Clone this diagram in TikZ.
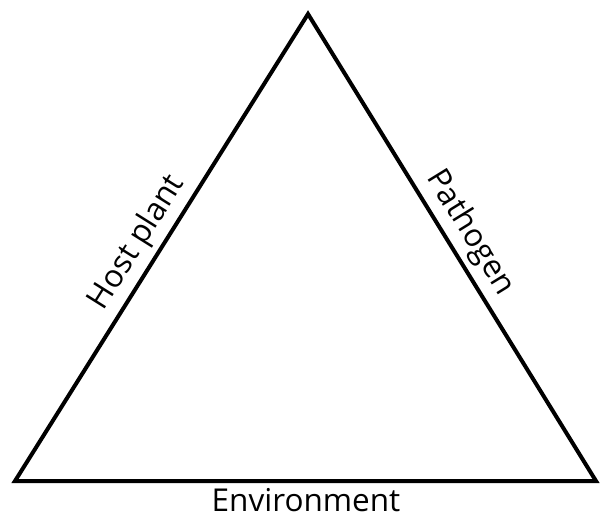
\documentclass[tikz,border=0pt]{standalone}
\usepackage{fontspec}
\setmainfont{Open Sans}
\begin{document}
\begin{tikzpicture}[x=1pt,y=-1pt,
  edge/.style={line width=4pt, line join=miter},
  lbl/.style={font=\fontsize{31.5}{36}\selectfont, inner sep=7pt}]
\useasboundingbox (0,0) rectangle (600,512);
\coordinate (A) at (308,14);
\coordinate (B) at (15,481);
\coordinate (C) at (596,481);
\draw[edge] (A) -- (B) -- (C) -- cycle;
\path (B) -- (A) node[lbl, pos=0.484, sloped, anchor=south] (host) {Host plant};
\path (A) -- (C) node[lbl, pos=0.494, sloped, anchor=south] (path) {Pathogen};
\node[lbl, anchor=base, inner sep=0pt] (env) at (306,511) {Environment};
\end{tikzpicture}
\end{document}
